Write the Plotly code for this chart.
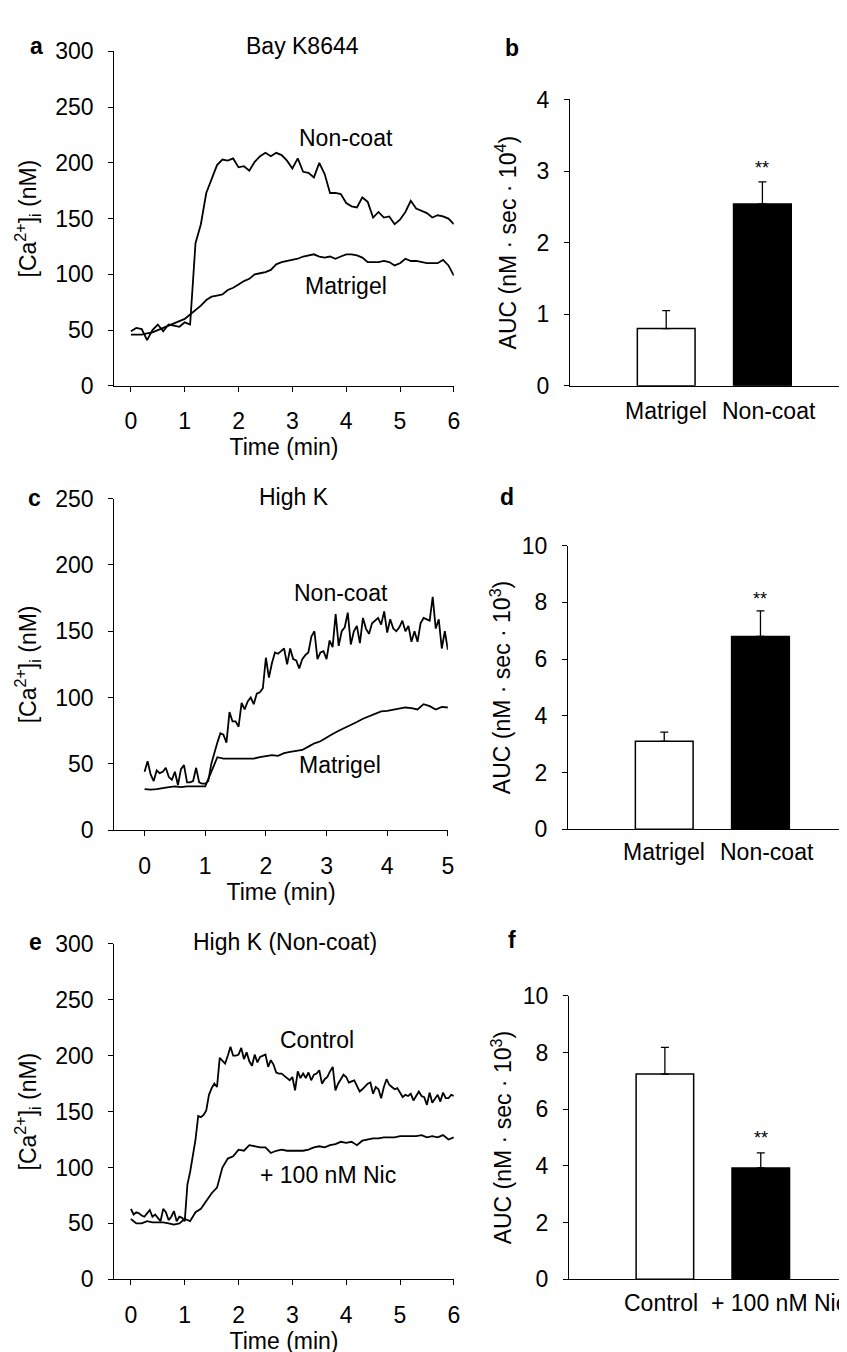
import numpy as np
import plotly.graph_objects as go

W, H = 847, 1352
FONT = "Liberation Sans, Arial, Helvetica, sans-serif"
FS = 23

# ---------------- Panel a: Bay K8644 ----------------
time_a = np.round(np.arange(0, 6.01, 0.1), 2)
a_noncoat = [49, 52, 51, 41, 50, 55, 49, 55, 54, 53, 57, 55, 128, 145, 173, 185, 198, 203, 202, 204,
             196, 197, 193, 201, 206, 209, 206, 209, 207, 202, 195, 204, 192, 191, 187, 200, 190, 173,
             173, 172, 164, 161, 160, 169, 165, 151, 156, 151, 152, 145, 149, 156, 166, 159, 157, 155,
             151, 153, 152, 150, 145]
a_matrigel = [46, 46, 46, 47, 48, 50, 52, 54, 56, 58, 60, 64, 68, 72, 77, 80, 81, 82, 86, 88,
              91, 94, 96, 100, 101, 102, 104, 109, 111, 112, 113, 114, 116, 117, 118, 116, 115, 116,
              114, 116, 118, 118, 117, 115, 111, 111, 111, 112, 111, 108, 110, 114, 112, 112, 111, 110,
              110, 110, 113, 108, 99]

# ---------------- Panel b ----------------
b_categories = ["Matrigel", "Non-coat"]
b_values = [0.80, 2.54]
b_err = [0.25, 0.31]

# ---------------- Panel c: High K ----------------
time_c_noncoat = np.round(np.arange(0, 5.001, 0.05), 3)
c_noncoat = [44, 52, 42, 37, 45, 43, 44, 47, 40, 38, 44, 34, 46, 49, 36, 36, 37, 47, 36, 35,
             35, 37, 50, 59, 66, 73, 72, 66, 89, 82, 82, 78, 96, 91, 97, 100, 95, 103, 104, 107,
             130, 115, 126, 134, 133, 135, 137, 125, 137, 129, 128, 122, 129, 132, 134, 146, 150, 129,
             134, 135, 129, 143, 138, 163, 139, 150, 153, 164, 140, 150, 154, 141, 160, 152, 148, 156,
             158, 160, 155, 165, 149, 159, 152, 150, 153, 158, 150, 154, 142, 150, 142, 156, 160, 159,
             158, 176, 152, 159, 137, 150, 136]
time_c_matrigel = np.round(np.arange(0, 5.001, 0.1), 2)
c_matrigel = [31, 30.5, 31, 32, 32.5, 33, 32.5, 33, 33, 33, 33, 44, 55, 54, 54, 54, 53.5, 54, 54, 55,
              56, 56.5, 56, 58, 59, 60, 60.5, 63, 65.5, 67, 70, 72.5, 75, 77, 79, 81.5, 84, 86, 88,
              89.5, 90, 91, 91.5, 92.5, 92, 91, 95, 93.5, 91, 93, 92.5]

# ---------------- Panel d ----------------
d_categories = ["Matrigel", "Non-coat"]
d_values = [3.1, 6.8]
d_err = [0.32, 0.9]

# ---------------- Panel e: High K (Non-coat) ----------------
time_e_control = np.round(np.arange(0, 6.001, 0.05), 3)
e_control = [63, 58, 60, 59, 57, 56, 59, 62, 56, 58, 55, 52, 63, 60, 53, 56, 61, 52, 56, 55,
             52, 85, 96, 110, 125, 146, 145, 147, 151, 165, 171, 175, 172, 198, 195, 193, 200, 208,
             200, 200, 201, 207, 197, 203, 195, 191, 201, 194, 199, 200, 201, 190, 196, 192, 185, 184,
             184, 182, 180, 178, 181, 169, 186, 180, 184, 180, 185, 178, 183, 184, 187, 175, 179, 181,
             186, 190, 169, 175, 179, 183, 181, 176, 177, 178, 173, 168, 170, 173, 175, 176, 166, 172,
             170, 162, 172, 179, 174, 172, 170, 171, 167, 163, 165, 164, 166, 160, 164, 168, 164, 163,
             156, 167, 158, 162, 165, 159, 167, 162, 162, 165, 164]
time_e_nic = np.round(np.arange(0, 6.001, 0.1), 2)
e_nic = [54, 50, 50, 52, 51, 51, 51, 50, 49, 50, 54, 52, 60, 63, 70, 77, 82, 100, 108, 110,
         116, 115, 120, 119, 118, 118, 113, 115, 116, 115, 115, 115, 115, 116, 118, 119, 118, 120,
         121, 123, 122, 123, 120, 124, 125, 126, 126, 127, 127, 127, 128, 128, 128, 128, 129, 127,
         128, 127, 129, 125, 127]

# ---------------- Panel f ----------------
f_categories = ["Control", "+ 100 nM Nic"]
f_values = [7.24, 3.93]
f_err = [0.94, 0.53]


def xd(p0, p1):
    return [p0 / W, p1 / W]


def yd(top, bottom):
    return [1 - bottom / H, 1 - top / H]


fig = go.Figure()

line_style = dict(color="black", width=1.8)


def add_line(x, y, ax):
    fig.add_trace(go.Scatter(x=x, y=y, mode="lines", line=line_style,
                             xaxis="x" + ax, yaxis="y" + ax, showlegend=False,
                             hoverinfo="skip"))


def add_bars(cats, vals, errs, ax):
    fig.add_trace(go.Bar(x=[0, 1], y=vals, width=0.6,
                         marker=dict(color=["white", "black"],
                                     line=dict(color="black", width=1.5)),
                         error_y=dict(type="data", symmetric=False, array=errs,
                                      arrayminus=[0] * len(errs), color="black",
                                      thickness=1.3, width=4),
                         xaxis="x" + ax, yaxis="y" + ax, showlegend=False,
                         hoverinfo="skip"))


add_line(time_a, a_noncoat, "")
add_line(time_a, a_matrigel, "")
add_bars(b_categories, b_values, b_err, "2")
add_line(time_c_noncoat, c_noncoat, "3")
add_line(time_c_matrigel, c_matrigel, "3")
add_bars(d_categories, d_values, d_err, "4")
add_line(time_e_control, e_control, "5")
add_line(time_e_nic, e_nic, "5")
add_bars(f_categories, f_values, f_err, "6")

tfont = dict(family=FONT, size=FS, color="black")
common = dict(showline=True, linecolor="black", linewidth=1, ticks="outside",
              ticklen=5, tickwidth=1, tickcolor="black", tickfont=tfont,
              ticklabelstandoff=10,
              showgrid=False, zeroline=False, fixedrange=True)
barx = dict(showline=True, linecolor="black", linewidth=1.3, ticks="", showticklabels=False,
            showgrid=False, zeroline=False, fixedrange=True)

ca_title = "[Ca<sup>2+</sup>]<sub>i</sub> (nM)"


def ttl(text, standoff):
    return dict(text=text, standoff=standoff, font=tfont)


layout = dict(
    width=W, height=H, margin=dict(l=0, r=0, t=0, b=0),
    paper_bgcolor="white", plot_bgcolor="white",
    font=dict(family=FONT, size=FS, color="black"),
    # panel a
    xaxis=dict(domain=xd(107, 449), range=[-0.31, 6.0], tickvals=list(range(7)),
               anchor="y", title=ttl("Time (min)", 4), **common),
    yaxis=dict(domain=yd(31, 372), range=[0, 300], tickvals=list(range(0, 301, 50)),
               anchor="x", title=ttl(ca_title, 12), **common),
    # panel b
    xaxis2=dict(domain=xd(566, 847), range=[-1.0, 1.9], anchor="y2", **barx),
    yaxis2=dict(domain=yd(80, 372), range=[0, 4], tickvals=[0, 1, 2, 3, 4], anchor="x2",
                title=ttl("AUC (nM · sec · 10<sup>4</sup>)", 13), **common),
    # panel c
    xaxis3=dict(domain=xd(107, 443), range=[-0.5, 5.0], tickvals=list(range(6)),
                anchor="y3", title=ttl("Time (min)", 4), **common),
    yaxis3=dict(domain=yd(487, 825), range=[0, 250], tickvals=list(range(0, 251, 50)),
                anchor="x3", title=ttl(ca_title, 12), **common),
    # panel d
    xaxis4=dict(domain=xd(564, 847), range=[-1.0, 1.92], anchor="y4", **barx),
    yaxis4=dict(domain=yd(535, 824), range=[0, 10], tickvals=list(range(0, 11, 2)), anchor="x4",
                title=ttl("AUC (nM · sec · 10<sup>3</sup>)", 4), **common),
    # panel e
    xaxis5=dict(domain=xd(107, 449), range=[-0.31, 6.0], tickvals=list(range(7)),
                anchor="y5", title=ttl("Time (min)", 4), **common),
    yaxis5=dict(domain=yd(941, 1283), range=[0, 300], tickvals=list(range(0, 301, 50)),
                anchor="x5", title=ttl(ca_title, 12), **common),
    # panel f
    xaxis6=dict(domain=xd(565, 847), range=[-1.0, 1.92], anchor="y6", **barx),
    yaxis6=dict(domain=yd(994, 1283), range=[0, 10], tickvals=list(range(0, 11, 2)), anchor="x6",
                title=ttl("AUC (nM · sec · 10<sup>3</sup>)", 4), **common),
)
fig.update_layout(**layout)

ann = []


def paper_text(text, px, py, size=FS, bold=False):
    ann.append(dict(text=("<b>%s</b>" % text) if bold else text, x=px / W, y=1 - py / H,
                    xref="paper", yref="paper", showarrow=False, xanchor="center",
                    yanchor="middle", font=dict(family=FONT, size=size, color="black")))


def data_text(text, x, y, ax, size=FS, xshift=0):
    ann.append(dict(text=text, x=x, y=y, xref="x" + ax, yref="y" + ax, showarrow=False,
                    xanchor="center", yanchor="middle", xshift=xshift,
                    font=dict(family=FONT, size=size, color="black")))


# panel letters
paper_text("a", 29, 25, bold=True)
paper_text("b", 508, 28, bold=True)
paper_text("c", 27, 486, bold=True)
paper_text("d", 503, 485, bold=True)
paper_text("e", 28, 939, bold=True)
paper_text("f", 508, 937, bold=True)

# panel titles
paper_text("Bay K8644", 297, 25)
paper_text("High K", 288, 485)
paper_text("High K (Non-coat)", 279, 939)

# curve labels
data_text("Non-coat", 4.0, 222, "")
data_text("Matrigel", 4.0, 90, "")
data_text("Non-coat", 3.24, 179, "3")
data_text("Matrigel", 3.23, 49, "3")
data_text("Control", 3.45, 214, "5")
data_text("+ 100 nM Nic", 3.67, 93, "5")

# significance marks
data_text("**", 1, 3.04, "2", size=18)
data_text("**", 1, 8.13, "4", size=18)
data_text("**", 1, 5.0, "6", size=18)

# category labels under bars
for cats, ax, ypix, shifts in [(b_categories, "2", 398, [0, 7]),
                               (d_categories, "4", 847, [0, 7]),
                               (f_categories, "6", 1307, [-4, 18])]:
    for i, c in enumerate(cats):
        ann.append(dict(text=c, x=i, y=1 - ypix / H, xref="x" + ax, yref="paper",
                        showarrow=False, xanchor="center", yanchor="middle", xshift=shifts[i],
                        font=dict(family=FONT, size=FS, color="black")))

fig.update_layout(annotations=ann)
fig.write_html("out.html")
